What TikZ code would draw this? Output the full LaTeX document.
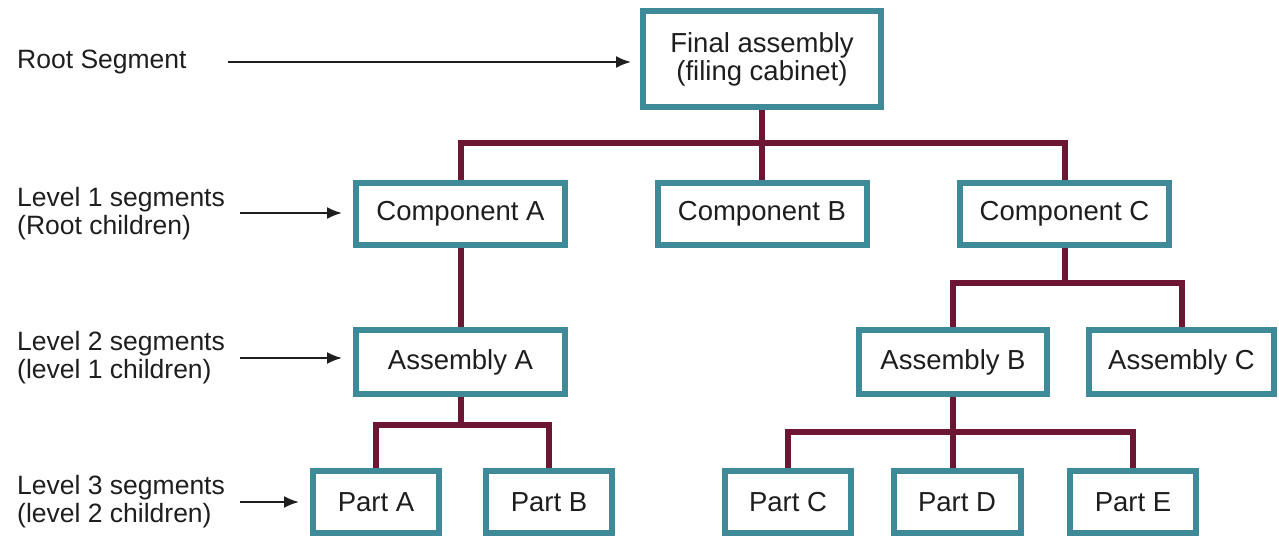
\documentclass[tikz,border=0pt]{standalone}
\usepackage{fontspec}
\setmainfont{Liberation Sans}
\usetikzlibrary{arrows.meta,backgrounds}
\definecolor{boxteal}{RGB}{62,138,153}
\definecolor{linkred}{RGB}{108,22,52}
\definecolor{ink}{RGB}{30,30,30}
\begin{document}
\begin{tikzpicture}[x=1pt,y=-1pt,
  every node/.style={font=\fontsize{27.5}{28}\selectfont, text=ink},
  seg/.style={draw=boxteal, line width=6pt, fill=white, inner sep=0pt,
              align=center, minimum height=62pt},
  lab/.style={anchor=west, align=left, inner sep=0pt,
              font=\fontsize{26.5}{28}\selectfont},
  link/.style={draw=linkred, line width=6pt},
  pointer/.style={draw=ink, line width=2pt, -{Latex[length=15pt,width=12pt]}}]
\useasboundingbox (0,0) rectangle (1279,539);

% segments
\node[seg, minimum width=238pt, minimum height=96pt] (root) at (762,59)
  {Final assembly\\(filing cabinet)};
\node[seg, minimum width=209pt] (compA) at (460.5,214) {Component A};
\node[seg, minimum width=209pt] (compB) at (762,214) {Component B};
\node[seg, minimum width=209pt] (compC) at (1064.5,214) {Component C};
\node[seg, minimum width=209pt, minimum height=64pt] (asmA) at (460.5,362) {Assembly A};
\node[seg, minimum width=188pt, minimum height=64pt] (asmB) at (953,362) {Assembly B};
\node[seg, minimum width=185pt, minimum height=64pt] (asmC) at (1181.5,362) {Assembly C};
\node[seg, minimum width=126pt] (partA) at (376,502) {Part A};
\node[seg, minimum width=126pt] (partB) at (549,502) {Part B};
\node[seg, minimum width=126pt] (partC) at (788,502) {Part C};
\node[seg, minimum width=127pt] (partD) at (957,502) {Part D};
\node[seg, minimum width=126pt] (partE) at (1133,502) {Part E};

% tree links, drawn beneath the boxes
\begin{scope}[on background layer]
  \coordinate (bar0) at (762,143);
  \coordinate (bar1) at (1064.5,283);
  \coordinate (bar2) at (460.5,425);
  \coordinate (bar3) at (953,432);
  \draw[link] (root.south) -- (compB.north);
  \draw[link] (compA.north) |- (bar0) -| (compC.north);
  \draw[link] (compA.south) -- (asmA.north);
  \draw[link] (compC.south) -- (bar1);
  \draw[link] (asmB.north) |- (bar1) -| (asmC.north);
  \draw[link] (asmA.south) -- (bar2);
  \draw[link] (partA.north) |- (bar2) -| (partB.north);
  \draw[link] (asmB.south) -- (asmB.south |- partD.north);
  \draw[link] (partC.north) |- (bar3) -| (partE.north);
\end{scope}

% level labels
\node[lab] (lRoot) at (17,62) {Root Segment};
\node[lab] (lOne) at (17,214) {Level 1 segments\\(Root children)};
\node[lab] (lTwo) at (17,358) {Level 2 segments\\(level 1 children)};
\node[lab] (lThree) at (17,502) {Level 3 segments\\(level 2 children)};

\coordinate (s0) at (228,62);
\coordinate (s1) at (240,213);
\coordinate (s2) at (240,358);
\coordinate (s3) at (240,502);
\draw[pointer, shorten >=9pt] (s0) -- (s0 -| root.west);
\draw[pointer, shorten >=11pt] (s1) -- (s1 -| compA.west);
\draw[pointer, shorten >=11pt] (s2) -- (s2 -| asmA.west);
\draw[pointer, shorten >=11pt] (s3) -- (s3 -| partA.west);
\end{tikzpicture}
\end{document}
